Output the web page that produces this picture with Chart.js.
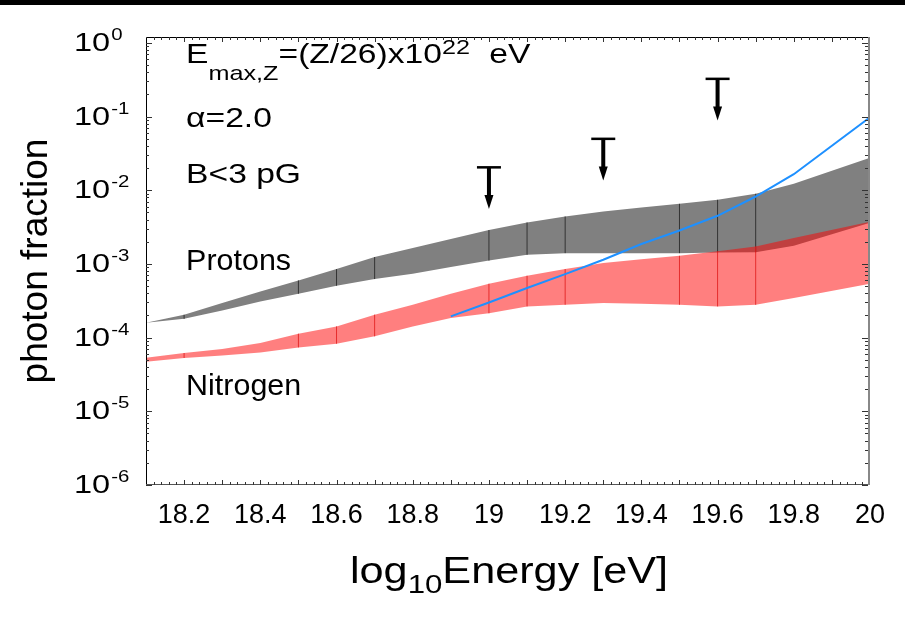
<!DOCTYPE html>
<html lang="en">
<head>
<meta charset="UTF-8">
<title>photon fraction</title>
<script src="https://cdn.jsdelivr.net/npm/chart.js"></script>
<style>
  html, body { margin: 0; padding: 0; background: #fff; overflow: hidden; }
  #wrap { width: 905px; height: 626px; }
  canvas { display: block; }
</style>
</head>
<body>
<div id="wrap"><canvas id="myChart"></canvas></div>
<script>
// band edges (log10 E on x)
const energy = [18.1, 18.2, 18.3, 18.4, 18.5, 18.6, 18.7, 18.8, 18.9, 19.0, 19.1, 19.2, 19.3, 19.4, 19.5, 19.6, 19.7, 19.8, 20.0];
const protonHigh = [1.59e-4, 2.04e-4, 2.94e-4, 4.23e-4, 5.97e-4, 8.51e-4, 1.24e-3, 1.64e-3, 2.17e-3, 2.88e-3, 3.65e-3, 4.40e-3, 5.14e-3, 5.82e-3, 6.54e-3, 7.41e-3, 8.94e-3, 1.22e-2, 2.75e-2];
const protonLow = [1.59e-4, 1.80e-4, 2.34e-4, 3.10e-4, 3.94e-4, 5.06e-4, 6.23e-4, 7.35e-4, 9.06e-4, 1.11e-3, 1.33e-3, 1.40e-3, 1.40e-3, 1.40e-3, 1.40e-3, 1.43e-3, 1.44e-3, 1.76e-3, 3.61e-3];
const nitrogenHigh = [5.34e-5, 6.18e-5, 7.00e-5, 8.45e-5, 1.13e-4, 1.42e-4, 2.05e-4, 2.79e-4, 3.94e-4, 5.38e-4, 6.91e-4, 8.51e-4, 1.03e-3, 1.16e-3, 1.29e-3, 1.48e-3, 1.72e-3, 2.24e-3, 3.73e-3];
const nitrogenLow = [4.71e-5, 5.29e-5, 5.74e-5, 6.30e-5, 7.36e-5, 8.26e-5, 1.04e-4, 1.42e-4, 1.85e-4, 2.14e-4, 2.65e-4, 2.79e-4, 2.94e-4, 2.88e-4, 2.79e-4, 2.65e-4, 2.79e-4, 3.44e-4, 5.38e-4];
const dividerX = [18.2, 18.5, 18.6, 18.7, 19.0, 19.1, 19.2, 19.5, 19.6, 19.7];

// blue curve
const lineEnergy = [18.9, 19.0, 19.1, 19.2, 19.3, 19.4, 19.5, 19.6, 19.7, 19.8, 20.0];
const lineFraction = [1.94e-4, 3.00e-4, 4.71e-4, 7.28e-4, 1.14e-3, 1.86e-3, 2.84e-3, 4.50e-3, 8.22e-3, 1.65e-2, 9.80e-2];

// upper limits
const limitEnergy = [19.0, 19.3, 19.6];
const limitFraction = [2.06e-2, 5.02e-2, 0.327];

const xTicks = [18.2, 18.4, 18.6, 18.8, 19.0, 19.2, 19.4, 19.6, 19.8, 20.0];
const yTicks = [1e-6, 1e-5, 1e-4, 1e-3, 1e-2, 1e-1, 1];
const yTickPowers = ['-6', '-5', '-4', '-3', '-2', '-1', '0'];

const FONT = "'Liberation Sans', Arial, Helvetica, sans-serif";

function pts(xs, ys) {
    return xs.map((x, i) => ({ x: x, y: ys[i] }));
}

function dividers(lo, hi) {
    const out = [];
    dividerX.forEach(x => {
        const i = energy.indexOf(x);
        out.push({ x: x, y: lo[i] }, { x: x, y: hi[i] }, { x: x, y: null });
    });
    return out;
}

// text pieces: [text, size, baseline shift, extra gap before]
const notes = [
    { x: 18.2, y: 0.53, sx: 1.2, parts: [['E', 28, 0], ['max,Z', 21, 17], ['=(Z/26)x10', 28, 0], ['22', 21, -9], [' eV', 28, 0, 10]] },
    { x: 18.2, y: 0.0731, sx: 1.2, parts: [['α=2.0', 28, 0]] },
    { x: 18.2, y: 0.0125, sx: 1.2, parts: [['B<3 pG', 28, 0]] },
    { x: 18.2, y: 8.15e-4, sx: 1.05, parts: [['Protons', 29, 0]] },
    { x: 18.2, y: 1.68e-5, sx: 1.05, parts: [['Nitrogen', 29, 0]] }
];

// draws one run of text, squeezed/stretched sideways, returns its width
function put(ctx, text, x, y, size, sx) {
    ctx.save();
    ctx.font = size + 'px ' + FONT;
    ctx.translate(x, y);
    ctx.scale(sx, 1);
    ctx.fillText(text, 0, 0);
    const w = ctx.measureText(text).width * sx;
    ctx.restore();
    return w;
}

const extras = {
    id: 'extras',
    beforeDraw(chart) {
        const ctx = chart.ctx;
        ctx.save();
        ctx.fillStyle = '#000';
        ctx.fillRect(0, 0, chart.width, 5);
        ctx.restore();
    },
    afterDraw(chart) {
        const { ctx, chartArea: a } = chart;
        const xs = chart.scales.x, ys = chart.scales.y;
        ctx.save();

        // upper limit markers
        ctx.fillStyle = '#000';
        limitEnergy.forEach((e, i) => {
            const px = xs.getPixelForValue(e);
            const py = ys.getPixelForValue(limitFraction[i]);
            ctx.fillRect(px - 12, py - 1, 24, 2.5);
            ctx.fillRect(px - 2, py, 4, 30);
            ctx.beginPath();
            ctx.moveTo(px - 4.5, py + 28);
            ctx.lineTo(px + 4.5, py + 28);
            ctx.lineTo(px, py + 42);
            ctx.closePath();
            ctx.fill();
        });

        // frame
        ctx.lineWidth = 1;
        ctx.strokeStyle = '#000';
        ctx.beginPath();
        ctx.moveTo(a.left + 0.5, a.bottom);
        ctx.lineTo(a.left + 0.5, a.top + 0.5);
        ctx.lineTo(a.right, a.top + 0.5);
        ctx.stroke();
        ctx.strokeStyle = '#555';
        ctx.beginPath();
        ctx.moveTo(a.left, a.bottom - 0.5);
        ctx.lineTo(a.right, a.bottom - 0.5);
        ctx.stroke();
        ctx.strokeStyle = '#888';
        ctx.lineWidth = 2;
        ctx.beginPath();
        ctx.moveTo(a.right - 1, a.top);
        ctx.lineTo(a.right - 1, a.bottom);
        ctx.stroke();

        // inner ticks
        ctx.lineWidth = 1;
        ctx.strokeStyle = '#333';
        ctx.beginPath();
        for (let d = -6; d <= 0; d++) {
            for (let k = 1; k <= 9; k++) {
                const v = k * Math.pow(10, d);
                if (v > 1.2) break;
                const py = Math.round(ys.getPixelForValue(v)) + 0.5;
                const len = k === 1 ? 6 : 3;
                ctx.moveTo(a.left, py); ctx.lineTo(a.left + len, py);
                ctx.moveTo(a.right - 2, py); ctx.lineTo(a.right - 2 - len, py);
            }
        }
        for (let n = 1; n < 95; n++) {
            const v = 18.1 + n * 0.02;
            const px = Math.round(xs.getPixelForValue(v)) + 0.5;
            const len = (n % 5 === 0) ? 5 : 3;
            ctx.moveTo(px, a.bottom); ctx.lineTo(px, a.bottom - len);
            ctx.moveTo(px, a.top); ctx.lineTo(px, a.top + len);
        }
        ctx.stroke();

        ctx.fillStyle = '#000';
        ctx.textBaseline = 'alphabetic';
        ctx.textAlign = 'left';

        // y tick labels 10^n
        yTicks.forEach((v, i) => {
            const py = ys.getPixelForValue(v);
            const w = put(ctx, '10', 74, py + 8, 26, 1.25);
            put(ctx, yTickPowers[i], 74 + w + 1, py - 3, 17, 1.2);
        });

        // x axis title
        let tx = 350;
        tx += put(ctx, 'log', tx, 583, 36, 1.2);
        tx += put(ctx, '10', tx, 593, 26, 1.2);
        put(ctx, 'Energy [eV]', tx, 583, 36, 1.2);

        // annotations
        notes.forEach(n => {
            let px = xs.getPixelForValue(n.x) + 2;
            const py = ys.getPixelForValue(n.y);
            n.parts.forEach(p => {
                px += (p[3] || 0);
                px += put(ctx, p[0], px, py + p[2], p[1], n.sx);
            });
        });
        ctx.restore();
    }
};

const config = {
    type: 'line',
    data: {
        datasets: [
            { data: pts(lineEnergy, lineFraction), borderColor: '#1e90ff', borderWidth: 2, order: 0 },
            { data: dividers(nitrogenLow, nitrogenHigh), borderColor: 'rgba(225,30,30,0.85)', borderWidth: 1, order: 1 },
            { data: pts(energy, nitrogenHigh), borderWidth: 0, borderColor: 'rgba(0,0,0,0)', fill: '+1', backgroundColor: 'rgba(255,0,0,0.5)', order: 2 },
            { data: pts(energy, nitrogenLow), borderWidth: 0, borderColor: 'rgba(0,0,0,0)', order: 3 },
            { data: dividers(protonLow, protonHigh), borderColor: '#333', borderWidth: 1, order: 4 },
            { data: pts(energy, protonHigh), borderWidth: 0, borderColor: 'rgba(0,0,0,0)', fill: '+1', backgroundColor: '#808080', order: 5 },
            { data: pts(energy, protonLow), borderWidth: 0, borderColor: 'rgba(0,0,0,0)', order: 6 }
        ]
    },
    options: {
        responsive: false,
        animation: false,
        layout: { padding: { top: 37, right: 35, left: 0, bottom: 0 } },
        elements: { point: { radius: 0 }, line: { tension: 0 } },
        plugins: { legend: { display: false }, tooltip: { enabled: false } },
        scales: {
            x: {
                type: 'linear',
                min: 18.1,
                max: 20,
                grid: { display: false, drawTicks: false },
                border: { display: false },
                afterBuildTicks: s => { s.ticks = xTicks.map(v => ({ value: v })); },
                afterFit: s => { s.height = 141; },
                ticks: {
                    padding: 14,
                    color: '#000',
                    font: { family: FONT, size: 27 },
                    callback: v => String(Number(v.toFixed(1)))
                }
            },
            y: {
                type: 'logarithmic',
                min: 1e-6,
                max: 1.2,
                grid: { display: false, drawTicks: false },
                border: { display: false },
                afterBuildTicks: s => { s.ticks = yTicks.map(v => ({ value: v })); },
                afterFit: s => { s.width = 146; },
                ticks: { display: false },
                title: {
                    display: true,
                    text: 'photon fraction',
                    color: '#000',
                    font: { family: FONT, size: 37 },
                    padding: { top: 15, bottom: 0 }
                }
            }
        }
    },
    plugins: [extras]
};

const canvas = document.getElementById('myChart');
canvas.width = 905;
canvas.height = 626;
const grafico = new Chart(canvas.getContext('2d'), config);
</script>
</body>
</html>
